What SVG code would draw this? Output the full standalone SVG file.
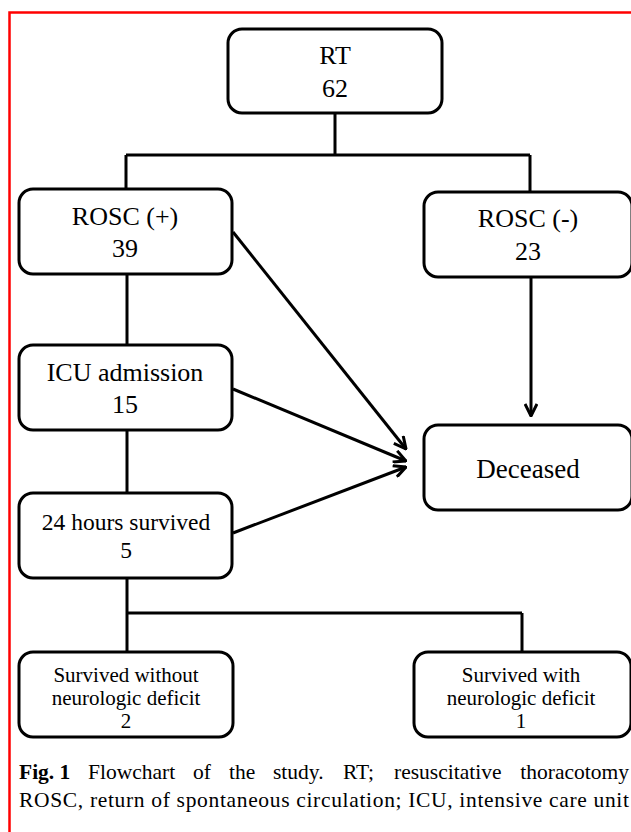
<svg xmlns="http://www.w3.org/2000/svg" width="631" height="832" viewBox="0 0 631 832">
<style>
.box{fill:#fff;stroke:#000;stroke-width:3}
.ln{fill:none;stroke:#000;stroke-width:3}
.t{font-family:"Liberation Serif","Times New Roman",serif;fill:#000;text-anchor:middle}
.big{font-size:26px}
.cap{font-family:"Liberation Serif","Times New Roman",serif;font-size:21.5px;fill:#000}
</style>
<defs>
<marker id="ah" viewBox="0 0 14 14" refX="13" refY="7" markerWidth="14" markerHeight="14" markerUnits="userSpaceOnUse" orient="auto">
<path d="M1,1 L13,7 L1,13" fill="none" stroke="#000" stroke-width="3" stroke-linejoin="miter"/>
</marker>
</defs>
<rect x="9.5" y="12.5" width="650" height="850" fill="#fff" stroke="#f00" stroke-width="2.5"/>
<g id="connectors">
<path class="ln" d="M335,113 V155 M126,155 H530 M126,155 V189 M530,155 V192"/>
<path class="ln" d="M127,274 V345 M127,430 V493 M127,578 V613 M127,613 H522 M127,613 V652 M522,613 V652"/>
<line class="ln" x1="531" y1="277" x2="531" y2="416" marker-end="url(#ah)"/>
<line class="ln" x1="233" y1="232" x2="406" y2="449" marker-end="url(#ah)"/>
<line class="ln" x1="233" y1="389" x2="406" y2="461" marker-end="url(#ah)"/>
<line class="ln" x1="233" y1="533" x2="406" y2="467" marker-end="url(#ah)"/>
</g>
<g id="rt">
<rect class="box" x="228" y="29" width="214" height="84" rx="14"/>
<text class="t big" x="335" y="64">RT</text>
<text class="t big" x="335" y="97">62</text>
</g>
<g id="rosc-pos">
<rect class="box" x="19" y="189" width="213" height="85" rx="14"/>
<text class="t big" x="125" y="225">ROSC (+)</text>
<text class="t big" x="125" y="257">39</text>
</g>
<g id="rosc-neg">
<rect class="box" x="424" y="192" width="208" height="85" rx="14"/>
<text class="t big" x="528" y="227">ROSC (-)</text>
<text class="t big" x="528" y="260">23</text>
</g>
<g id="icu">
<rect class="box" x="19" y="345" width="213" height="85" rx="14"/>
<text class="t big" x="125" y="381">ICU admission</text>
<text class="t big" x="125" y="413">15</text>
</g>
<g id="deceased">
<rect class="box" x="424" y="425" width="208" height="85" rx="14"/>
<text class="t" x="528" y="478" font-size="27">Deceased</text>
</g>
<g id="h24">
<rect class="box" x="19" y="493" width="213" height="85" rx="14"/>
<text class="t" x="126" y="530" font-size="23.5">24 hours survived</text>
<text class="t" x="126" y="558" font-size="23.5">5</text>
</g>
<g id="surv-without">
<rect class="box" x="19" y="652" width="214" height="85" rx="14"/>
<text class="t" x="126" y="682" font-size="21">Survived without</text>
<text class="t" x="126" y="705" font-size="21">neurologic deficit</text>
<text class="t" x="126" y="728" font-size="21">2</text>
</g>
<g id="surv-with">
<rect class="box" x="414" y="652" width="217" height="85" rx="14"/>
<text class="t" x="521" y="682" font-size="21">Survived with</text>
<text class="t" x="521" y="705" font-size="21">neurologic deficit</text>
<text class="t" x="521" y="728" font-size="21">1</text>
</g>
<g id="caption">
<text class="cap" y="779"><tspan x="19" font-weight="bold">Fig. 1</tspan><tspan x="88">Flowchart</tspan><tspan x="193">of</tspan><tspan x="229">the</tspan><tspan x="273">study.</tspan><tspan x="343">RT;</tspan><tspan x="394">resuscitative</tspan><tspan x="629" text-anchor="end">thoracotomy</tspan></text>
<text class="cap" x="19" y="807" textLength="610" lengthAdjust="spacing">ROSC, return of spontaneous circulation; ICU, intensive care unit</text>
</g>
</svg>
